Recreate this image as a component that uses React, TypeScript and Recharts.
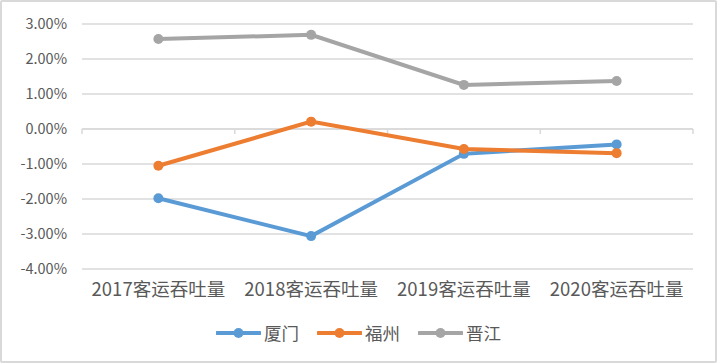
import React from 'react';
import { LineChart, Line, XAxis, YAxis, CartesianGrid, Legend, ReferenceLine } from 'recharts';

const categories = ['2017客运吞吐量', '2018客运吞吐量', '2019客运吞吐量', '2020客运吞吐量'];
const xiamen = [-1.98, -3.06, -0.71, -0.44];
const fuzhou = [-1.05, 0.21, -0.57, -0.69];
const jinjiang = [2.57, 2.69, 1.26, 1.37];
const yTicks = [-4, -3, -2, -1, 0, 1, 2, 3];

const SERIES = [
  { key: '厦门', color: '#5B9BD5' },
  { key: '福州', color: '#ED7D31' },
  { key: '晋江', color: '#A5A5A5' },
];

const data = categories.map((name, i) => ({
  name,
  厦门: xiamen[i],
  福州: fuzhou[i],
  晋江: jinjiang[i],
}));

const FONT = '"Noto Sans CJK SC", "Noto Sans", sans-serif';
const TEXT = '#595959';
const GRID = '#d9d9d9';

// zero line with category boundary tick marks (Excel style)
const ZeroLine = (props: any) => {
  const { x1, x2, y1 } = props;
  const n = categories.length;
  const step = (x2 - x1) / n;
  const marks = [];
  for (let i = 0; i <= n; i++) {
    const x = x1 + step * i;
    marks.push(<line key={i} x1={x} x2={x} y1={y1} y2={y1 + 5} stroke={GRID} strokeWidth={1.5} />);
  }
  return (
    <g>
      <line x1={x1} x2={x2} y1={y1} y2={y1} stroke={GRID} strokeWidth={1.5} />
      {marks}
    </g>
  );
};

const LegendContent = () => (
  <div style={{ display: 'flex', justifyContent: 'center', height: 20, alignItems: 'center', fontFamily: FONT }}>
    {SERIES.map((s, i) => (
      <div key={s.key} style={{ display: 'flex', alignItems: 'center', marginLeft: i === 0 ? 0 : 18 }}>
        <svg width={45} height={12}>
          <line x1={1} x2={44} y1={6} y2={6} stroke={s.color} strokeWidth={4} strokeLinecap="round" />
          <circle cx={22.5} cy={6} r={5} fill={s.color} />
        </svg>
        <span style={{ color: TEXT, fontSize: 17.5, marginLeft: 3, lineHeight: '20px' }}>{s.key}</span>
      </div>
    ))}
  </div>
);

const App: React.FC = () => {
  return (
    <div
      style={{
        position: 'absolute',
        left: 0,
        top: 0,
        width: 717,
        height: 363,
        boxSizing: 'border-box',
        border: `2px solid ${GRID}`,
        borderRadius: 2,
        background: '#ffffff',
      }}
    >
      <div style={{ position: 'absolute', left: -2, top: -2 }}>
        <LineChart width={717} height={363} data={data} margin={{ top: 24, right: 24, left: 0, bottom: 20 }}>
          <CartesianGrid vertical={false} stroke={GRID} strokeWidth={1.5} />
          <XAxis
            dataKey="name"
            scale="band"
            height={54}
            axisLine={false}
            tickLine={false}
            tickSize={0}
            tickMargin={14}
            interval={0}
            tick={{ fill: TEXT, fontSize: 18.5, fontFamily: FONT }}
          />
          <YAxis
            width={82}
            domain={[-4, 3]}
            ticks={yTicks}
            axisLine={false}
            tickLine={false}
            tickSize={0}
            tickMargin={15}
            tickFormatter={(v: number) => `${v.toFixed(2)}%`}
            tick={{ fill: TEXT, fontSize: 14.5, fontFamily: FONT }}
          />
          <ReferenceLine y={0} shape={ZeroLine} />
          <Legend
            verticalAlign="bottom"
            height={20}
            content={LegendContent}
            wrapperStyle={{ left: 0, width: 717 }}
          />
          {SERIES.map(s => (
            <Line
              key={s.key}
              dataKey={s.key}
              stroke={s.color}
              strokeWidth={4}
              strokeLinecap="round"
              dot={{ r: 5, fill: s.color, stroke: s.color, strokeWidth: 0 }}
              activeDot={false}
              isAnimationActive={false}
            />
          ))}
        </LineChart>
      </div>
    </div>
  );
};

export default App;
